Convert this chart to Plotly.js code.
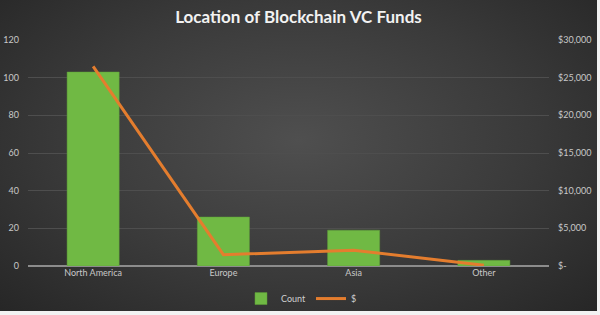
<!DOCTYPE html>
<html>
<head>
<meta charset="utf-8">
<script src="https://cdn.plot.ly/plotly-3.0.1.min.js"></script>
<style>
  html, body { margin: 0; padding: 0; background: #f2f2f2; }
  #chart {
    width: 597px; height: 311px;
    background: radial-gradient(ellipse 70% 80% at 50% 45%, #4f4f4f 0%, #3a3a3a 55%, #262626 100%);
  }
</style>
</head>
<body>
<div id="chart"></div>
<script>
// Regions and their fund counts / dollar amounts
const regions = ["North America", "Europe", "Asia", "Other"];
const fundCounts = [103, 26, 19, 3];
const fundDollars = [26500, 1500, 2100, 100];

// Right-axis tick labels (accounting style, zero shown as "$-")
const dollarTickVals = [0, 5000, 10000, 15000, 20000, 25000, 30000];
const dollarTickText = ["$-", "$5,000", "$10,000", "$15,000", "$20,000", "$25,000", "$30,000"];

const tickFont = { family: "Lato, 'Open Sans', sans-serif", size: 9, color: "#c8c8c8" };

const traces = [
  {
    type: "bar",
    name: "Count",
    x: regions,
    y: fundCounts,
    marker: { color: "#70b944", line: { color: "#5e9e38", width: 0.5 } },
    width: 0.4,
    yaxis: "y"
  },
  {
    type: "scatter",
    mode: "lines",
    name: "$",
    x: regions,
    y: fundDollars,
    line: { color: "#e47d2e", width: 3 },
    yaxis: "y2"
  }
];

const layout = {
  width: 597,
  height: 311,
  paper_bgcolor: "rgba(0,0,0,0)",
  plot_bgcolor: "rgba(0,0,0,0)",
  margin: { l: 28, r: 48, t: 40, b: 45, autoexpand: false },
  title: {
    text: "<b>Location of Blockchain VC Funds</b>",
    font: { family: "Lato, 'Open Sans', sans-serif", size: 17, color: "#f2f2f2" },
    x: 0.5, xanchor: "center",
    y: 0.945, yanchor: "middle"
  },
  showlegend: true,
  legend: {
    orientation: "h",
    xref: "container", yref: "container",
    x: 0.505, xanchor: "center",
    y: 0.04, yanchor: "middle",
    font: { family: "Lato, 'Open Sans', sans-serif", size: 9, color: "#d0d0d0" },
    bgcolor: "rgba(0,0,0,0)",
    itemwidth: 30,
    tracegroupgap: 0
  },
  xaxis: {
    type: "category",
    tickfont: tickFont,
    showgrid: false,
    showline: false,
    ticks: "",
    automargin: false
  },
  yaxis: {
    range: [0, 120],
    dtick: 20,
    tickfont: tickFont,
    gridcolor: "#4e4e4e",
    gridwidth: 1,
    zeroline: true,
    zerolinecolor: "#8c8c8c",
    zerolinewidth: 1.5,
    showline: false,
    ticks: "",
    ticklabelstandoff: 8,
    automargin: false
  },
  yaxis2: {
    overlaying: "y",
    side: "right",
    range: [0, 30000],
    tickvals: dollarTickVals,
    ticktext: dollarTickText,
    tickfont: tickFont,
    showgrid: false,
    zeroline: false,
    showline: false,
    ticks: "",
    ticklabelstandoff: 8,
    automargin: false
  }
};

Plotly.newPlot("chart", traces, layout, { displayModeBar: false, staticPlot: true });
</script>
</body>
</html>
